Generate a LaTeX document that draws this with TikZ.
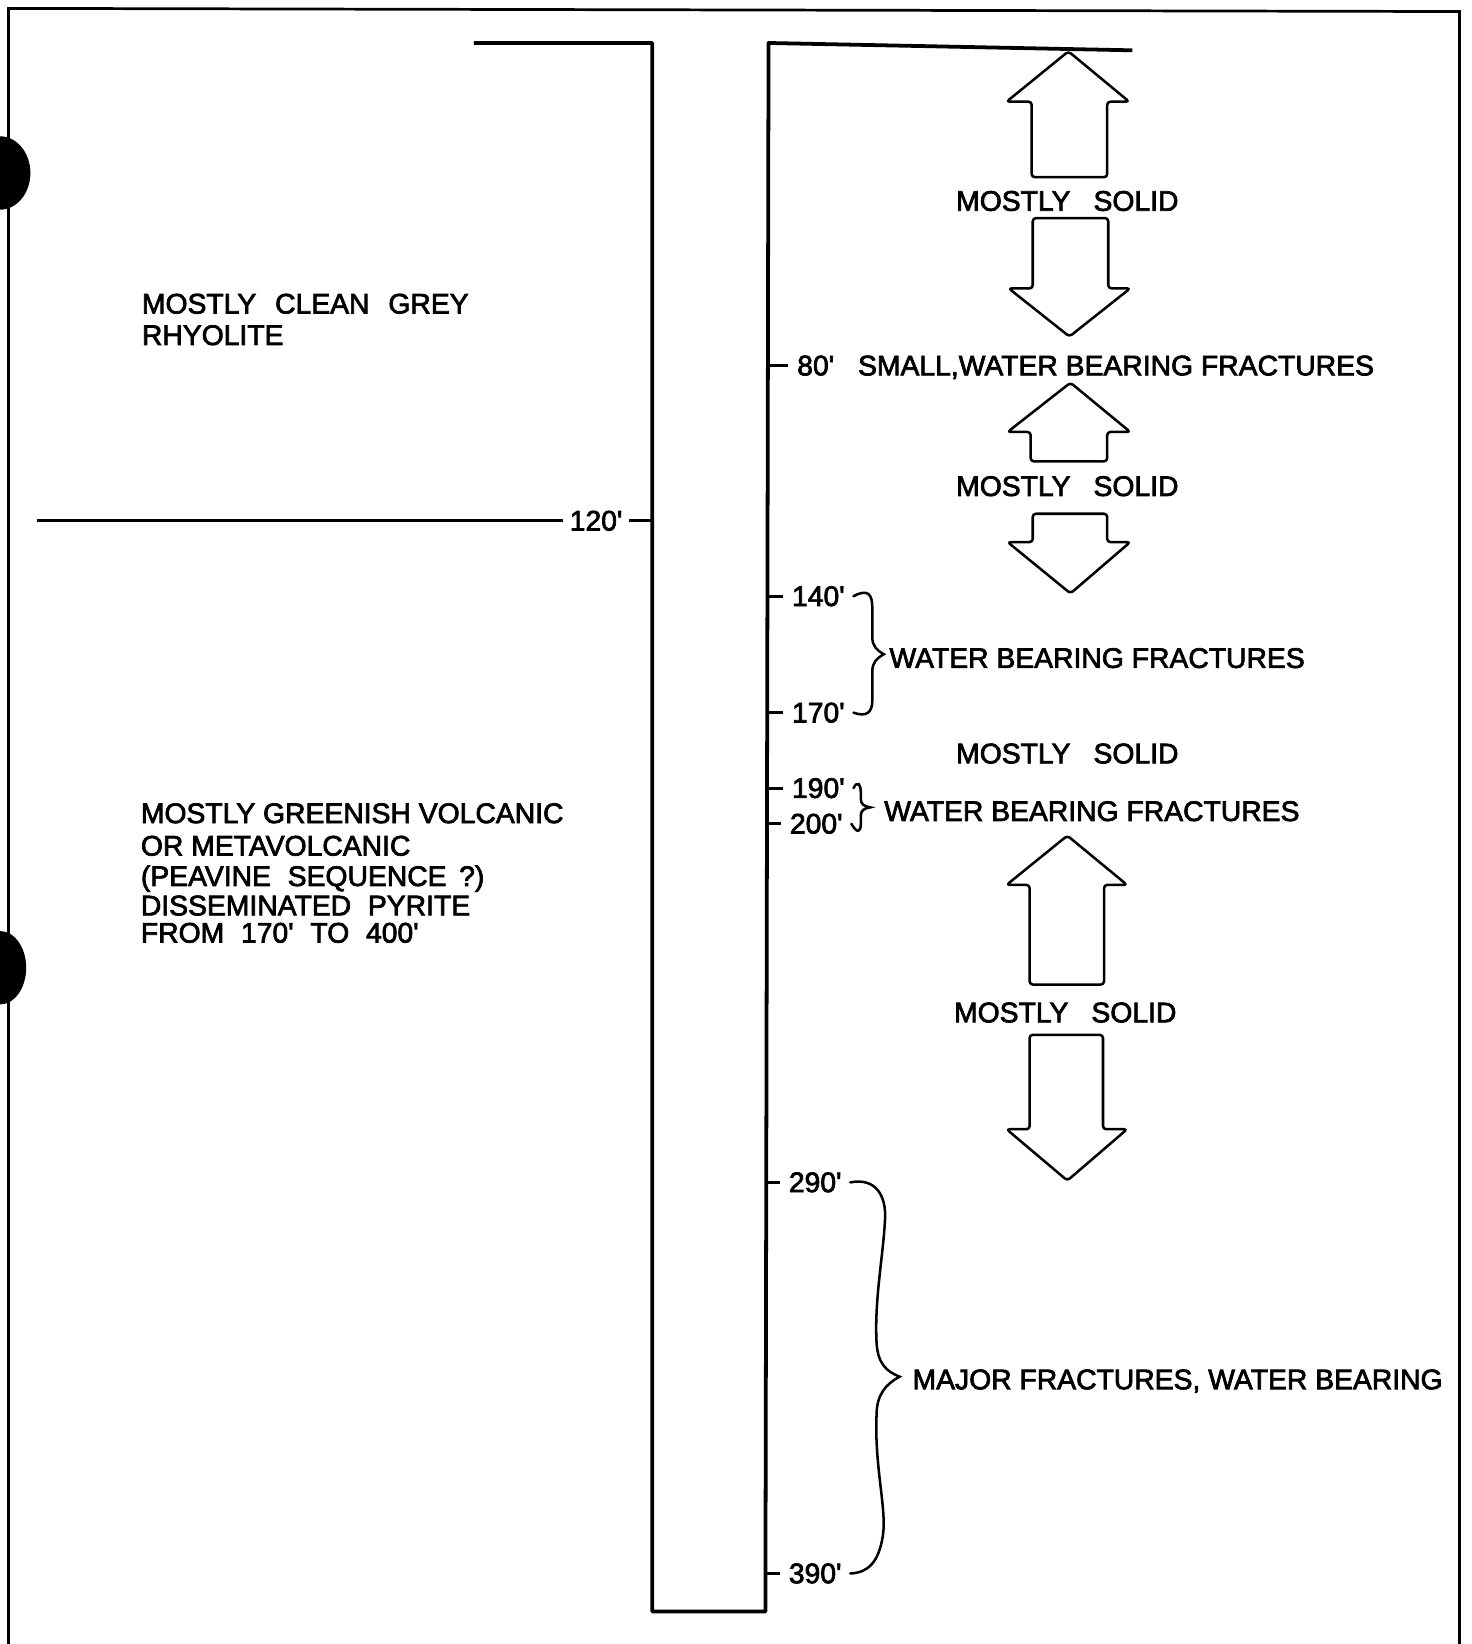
\documentclass[tikz,border=0pt]{standalone}
\usepackage{fontspec}
\setmainfont{Liberation Sans}[BoldFont={Liberation Sans}, BoldFeatures={FakeBold=2.5}]
\newcommand{\ftm}{\textquotesingle}
\newcommand{\wsp}[1]{\hspace{#1pt}}
\begin{document}
\begin{tikzpicture}[x=0.5pt,y=-0.5pt,
  lbl/.style={font=\fontsize{13.5}{15}\selectfont\bfseries, inner sep=0pt, anchor=base west},
  ctr/.style={font=\fontsize{13.5}{15}\selectfont\bfseries, inner sep=0pt, anchor=base},
  tlbl/.style={font=\fontsize{13.5}{15}\selectfont\bfseries, inner xsep=4pt, inner ysep=0pt, anchor=base west},
  framel/.style={line width=1.3pt},
  pipel/.style={line width=1.8pt, line join=round},
  tickl/.style={line width=1.4pt},
  arrw/.style={line width=1.2pt, line join=round, rounded corners=1.5pt},
  brcl/.style={line width=1.2pt, line cap=round}]
\useasboundingbox (0,0) rectangle (1403,1568);
\fill[white] (0,0) rectangle (1403,1568);
% frame
\draw[framel] (8,1568) -- (8,8) -- (1392,11) -- (1392,1568);
\fill (0,165) ellipse (29 and 35);
\fill (0,923) ellipse (25 and 35);
% pipe
\draw[pipel] (452,41) -- (622,41) -- (622,1537) -- (730,1537) -- (733,41) -- (1080,48);
\coordinate (pipeR) at (732,800);
\coordinate (pipeL) at (622,800);
% left texts
\node[lbl] (rh1) at (135,299) {MOSTLY\wsp{9}CLEAN\wsp{9}GREY};
\node[lbl] (rh2) at (135,329) {RHYOLITE};
\node[lbl] (gv1) at (134,785) {MOSTLY GREENISH VOLCANIC};
\node[lbl] (gv2) at (134,816) {OR METAVOLCANIC};
\node[lbl] (gv3) at (134,845) {(PEAVINE\wsp{8}SEQUENCE\wsp{6}?)};
\node[lbl] (gv4) at (134,873) {DISSEMINATED\wsp{8}PYRITE};
\node[lbl] (gv5) at (134,899) {FROM\wsp{8}170\ftm\wsp{8}TO\wsp{8}400\ftm};
% 120 contact
\node[tlbl, inner xsep=3pt] (t120) at (537,506) {120\ftm};
\coordinate (c120) at (35,496);
\draw[tickl] (c120) -- (c120 -| t120.west);
\draw[tickl] (t120.east) -- (t120.east -| pipeL);
% depth labels
\node[tlbl] (t80) at (752,358) {80\ftm};
\node[tlbl] (t140) at (747,578) {140\ftm};
\node[tlbl] (t170) at (747,689) {170\ftm};
\node[tlbl] (t190) at (747,761) {190\ftm};
\node[tlbl] (t200) at (745,795) {200\ftm};
\node[tlbl] (t290) at (744,1137) {290\ftm};
\node[tlbl] (t390) at (744,1510) {390\ftm};
\foreach \t in {t80,t140,t170,t190,t200,t290,t390}
  \draw[tickl] (\t.west) -- (\t.west -| pipeR);
% descriptions
\node[lbl] (sw) at (818,358) {SMALL,WATER BEARING FRACTURES};
\node[lbl] (wb1) at (848,637) {WATER BEARING FRACTURES};
\node[lbl] (wb2) at (843,783) {WATER BEARING FRACTURES};
\node[lbl] (mj) at (870,1325) {MAJOR FRACTURES, WATER BEARING};
\node[ctr] (ms1) at (1018,201) {MOSTLY\wsp{11}SOLID};
\node[ctr] (ms2) at (1018,473) {MOSTLY\wsp{11}SOLID};
\node[ctr] (ms3) at (1018,728) {MOSTLY\wsp{11}SOLID};
\node[ctr] (ms4) at (1016,975) {MOSTLY\wsp{11}SOLID};
% braces
\draw[brcl] (t140.east) .. controls (828,561) and (832,567) .. (832,580) -- (832,608)
  .. controls (832,616) and (836,620) .. (843,624)
  .. controls (836,628) and (832,632) .. (832,640) -- (832,668)
  .. controls (832,680) and (826,684) .. (t170.east);
\draw[brcl] (t190.east) .. controls (818,744) and (821,748) .. (821,756) -- (821,762)
  .. controls (821,767) and (824,769) .. (830,770)
  .. controls (824,771) and (821,773) .. (821,778) -- (821,786)
  .. controls (821,793) and (818,796) .. (t200.east);
\draw[brcl] (t290.east) .. controls (835,1123) and (846,1140) .. (844,1165)
  .. controls (842,1200) and (834,1240) .. (836,1280)
  .. controls (837,1300) and (845,1308) .. (858,1313)
  .. controls (845,1320) and (836,1330) .. (836,1350)
  .. controls (834,1400) and (846,1440) .. (842,1465)
  .. controls (838,1490) and (828,1500) .. (t390.east);
% arrows
\draw[arrw] (1019,49) -- (1077,97) -- (1056,97) -- (1056,169) -- (984,169) -- (984,97) -- (960,97) -- cycle;
\draw[arrw] (985,208) -- (1057,208) -- (1057,275) -- (1078,275) -- (1020,321) -- (962,275) -- (985,275) -- cycle;
\draw[arrw] (1021,365) -- (1078,412) -- (1056,412) -- (1056,440) -- (983,440) -- (983,412) -- (961,412) -- cycle;
\draw[arrw] (985,490) -- (1056,490) -- (1056,517) -- (1078,517) -- (1021,566) -- (961,517) -- (985,517) -- cycle;
\draw[arrw] (1018,797) -- (1075,844) -- (1053,844) -- (1053,939) -- (982,939) -- (982,844) -- (960,844) -- cycle;
\draw[arrw] (982,987) -- (1052,987) -- (1052,1077) -- (1075,1077) -- (1018,1126) -- (960,1077) -- (982,1077) -- cycle;
\end{tikzpicture}
\end{document}
